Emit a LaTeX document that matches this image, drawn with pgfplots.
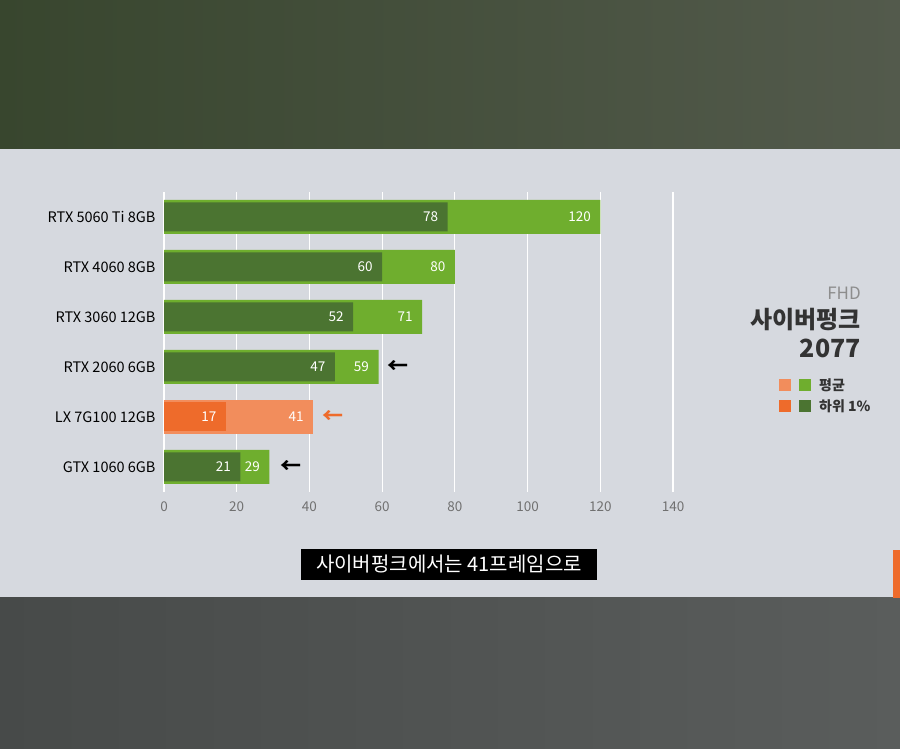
\documentclass[border=0pt]{standalone}
\usepackage{fontspec}
\setmainfont{Noto Sans CJK KR}
\usepackage{pgfplots}
\pgfplotsset{compat=1.18}
\definecolor{lgreen}{HTML}{6FAE2E}
\definecolor{dgreen}{HTML}{4B7431}
\definecolor{lorange}{HTML}{F28D5C}
\definecolor{dorange}{HTML}{EE6B2B}
\definecolor{panel}{HTML}{D6D9DF}
\definecolor{topL}{HTML}{38462E}
\definecolor{topR}{HTML}{535A4C}
\definecolor{botL}{HTML}{474A49}
\definecolor{botR}{HTML}{5A5D5C}
\definecolor{ticktxt}{HTML}{707070}
\definecolor{darktxt}{HTML}{333333}
\begin{document}
\begin{tikzpicture}[x=1pt,y=1pt]
\fill[panel] (0,0) rectangle (900,749);
\shade[left color=topL, right color=topR] (0,600) rectangle (900,749);
\shade[left color=botL, right color=botR] (0,0) rectangle (900,151);
\fill[dorange] (893,151) rectangle (900,199);
\begin{axis}[
  at={(164pt,257pt)}, anchor=south west,
  scale only axis, width=509pt, height=300pt,
  xmin=0, xmax=140, ymin=-0.5, ymax=5.5,
  y dir=reverse,
  ytick={0,1,2,3,4,5},
  yticklabels={RTX 5060 Ti 8GB, RTX 4060 8GB, RTX 3060 12GB, RTX 2060 6GB, LX 7G100 12GB, GTX 1060 6GB},
  xtick={0,20,40,60,80,100,120,140},
  xmajorgrids, ymajorgrids=false,
  grid style={white, line width=1.2pt},
  axis line style={draw=none},
  major tick length=0pt,
  /pgf/number format/assume math mode=true,
  xticklabel style={font=\fontsize{13.5}{13.5}\selectfont, text=ticktxt, yshift=-6pt},
  yticklabel style={font=\fontsize{14.5}{14.5}\selectfont, text=black, xshift=-5pt},
  clip=false,
]
\addplot[xbar, bar width=34pt, bar shift=0pt, fill=lgreen, draw=none,
  nodes near coords, every node near coord/.append style={anchor=east, xshift=-6pt, text=white, font=\fontsize{13.5}{13.5}\selectfont}]
  coordinates {(120,0) (80,1) (71,2) (59,3) (29,5)};
\addplot[xbar, bar width=34pt, bar shift=0pt, fill=lorange, draw=none,
  nodes near coords, every node near coord/.append style={anchor=east, xshift=-6pt, text=white, font=\fontsize{13.5}{13.5}\selectfont}]
  coordinates {(41,4)};
\addplot[xbar, bar width=29pt, bar shift=0pt, fill=dgreen, draw=none,
  nodes near coords, every node near coord/.append style={anchor=east, xshift=-6pt, text=white, font=\fontsize{13.5}{13.5}\selectfont}]
  coordinates {(78,0) (60,1) (52,2) (47,3) (21,5)};
\addplot[xbar, bar width=29pt, bar shift=0pt, fill=dorange, draw=none,
  nodes near coords, every node near coord/.append style={anchor=east, xshift=-6pt, text=white, font=\fontsize{13.5}{13.5}\selectfont}]
  coordinates {(17,4)};
\node[font=\bfseries\fontsize{21}{21}\selectfont, text=black] at (axis cs:64.4,3) {←};
\node[font=\bfseries\fontsize{21}{21}\selectfont, text=dorange] at (axis cs:46.5,4) {←};
\node[font=\bfseries\fontsize{21}{21}\selectfont, text=black] at (axis cs:35,5) {←};
\end{axis}
% right-hand title
\node[anchor=east, text=ticktxt!80, font=\fontsize{17}{17}\selectfont, inner sep=0pt] at (861,456) {FHD};
\node[anchor=east, text=darktxt, font=\bfseries\fontsize{24}{24}\selectfont, inner sep=0pt] at (861,429) {사이버펑크};
\node[anchor=east, text=darktxt, font=\bfseries\fontsize{25}{25}\selectfont, inner sep=0pt] at (861,401) {2077};
% legend
\fill[lorange] (779,358) rectangle (791,370);
\fill[lgreen] (799,358) rectangle (811,370);
\node[anchor=west, text=darktxt, font=\bfseries\fontsize{14}{14}\selectfont, inner sep=0pt] at (819,364) {평균};
\fill[dorange] (779,337) rectangle (791,349);
\fill[dgreen] (799,337) rectangle (811,349);
\node[anchor=west, text=darktxt, font=\bfseries\fontsize{14}{14}\selectfont, inner sep=0pt] at (819,343) {하위 1\%};
% subtitle
\node[fill=black, text=white, font=\fontsize{20}{20}\selectfont, inner xsep=4pt, minimum height=31pt, minimum width=296pt] at (449,184.5) {사이버펑크에서는 41프레임으로};
\end{tikzpicture}
\end{document}
